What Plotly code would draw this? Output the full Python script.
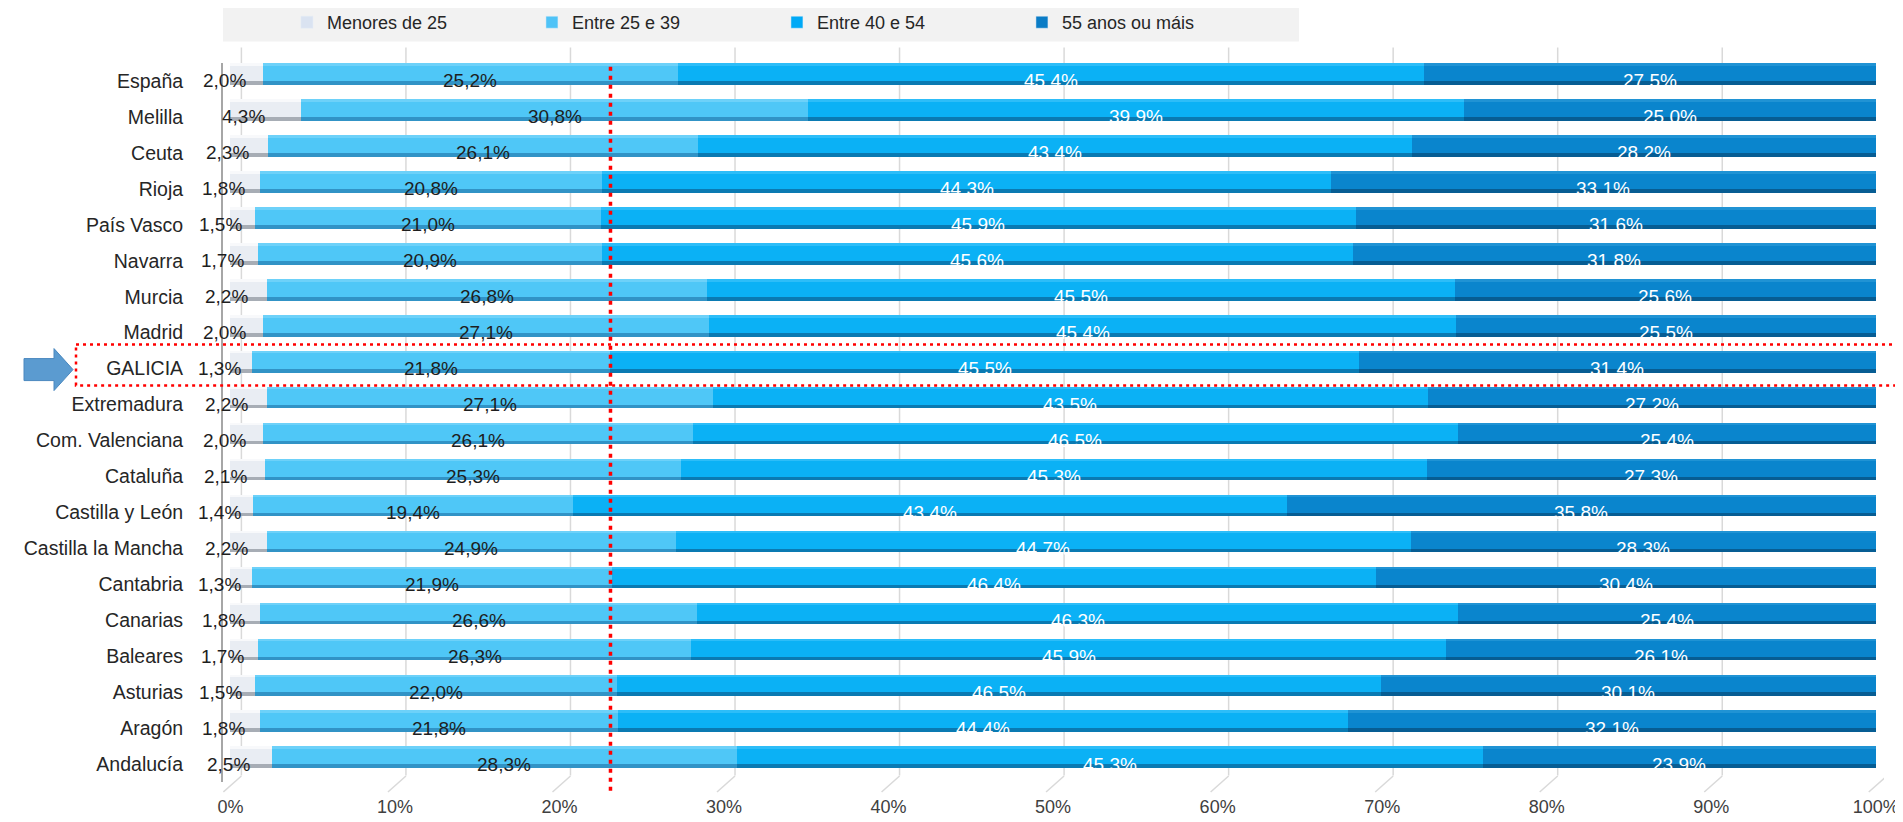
import plotly.graph_objects as go

# ---------------- data ----------------
REGIONS = ["España", "Melilla", "Ceuta", "Rioja", "País Vasco", "Navarra", "Murcia",
           "Madrid", "GALICIA", "Extremadura", "Com. Valenciana", "Cataluña",
           "Castilla y León", "Castilla la Mancha", "Cantabria", "Canarias",
           "Baleares", "Asturias", "Aragón", "Andalucía"]
SERIES = ["Menores de 25", "Entre 25 e 39", "Entre 40 e 54", "55 anos ou máis"]
MENORES_25 = [2.0, 4.3, 2.3, 1.8, 1.5, 1.7, 2.2, 2.0, 1.3, 2.2, 2.0, 2.1, 1.4, 2.2, 1.3, 1.8, 1.7, 1.5, 1.8, 2.5]
ENTRE_25_39 = [25.2, 30.8, 26.1, 20.8, 21.0, 20.9, 26.8, 27.1, 21.8, 27.1, 26.1, 25.3, 19.4, 24.9, 21.9, 26.6, 26.3, 22.0, 21.8, 28.3]
ENTRE_40_54 = [45.4, 39.9, 43.4, 44.3, 45.9, 45.6, 45.5, 45.4, 45.5, 43.5, 46.5, 45.3, 43.4, 44.7, 46.4, 46.3, 45.9, 46.5, 44.4, 45.3]
MAIS_55 = [27.5, 25.0, 28.2, 33.1, 31.6, 31.8, 25.6, 25.5, 31.4, 27.2, 25.4, 27.3, 35.8, 28.3, 30.4, 25.4, 26.1, 30.1, 32.1, 23.9]
X_TICKS = [0, 10, 20, 30, 40, 50, 60, 70, 80, 90, 100]
X_TICK_LABELS = ["0%", "10%", "20%", "30%", "40%", "50%", "60%", "70%", "80%", "90%", "100%"]
HIGHLIGHT = "GALICIA"

# ---------------- styles ----------------
FONT = "Liberation Sans, Arial, sans-serif"
FILL = ["#e9edf3", "#4fc7f7", "#0bb1f5", "#0a85cd"]
LEGEND_COL = ["#dae3f1", "#4fc3f7", "#00a9f6", "#0a7cc6"]
SHADE = ["#a7adb5", "#3193c6", "#0a7ab2", "#075d93"]
LIGHT = ["#ffffff", "#7ad6fa", "#3cc3fa", "#2a9ad8"]
LABEL_COL = ["#1e1e1e", "#1e1e1e", "#ffffff", "#ffffff"]
BAR_W = 0.6
BAR_OFF = -0.49

values = [MENORES_25, ENTRE_25_39, ENTRE_40_54, MAIS_55]
n = len(REGIONS)
totals = [sum(v[i] for v in values) for i in range(n)]
shares = [[v[i] / totals[i] * 100 for i in range(n)] for v in values]
bases = []
run = [0.0] * n
for s in shares:
    bases.append(run[:])
    run = [run[i] + s[i] for i in range(n)]

fig = go.Figure()
for k, name in enumerate(SERIES):
    fig.add_trace(go.Bar(
        y=REGIONS, x=shares[k], base=bases[k], orientation="h", name=name,
        width=BAR_W, offset=BAR_OFF, marker=dict(color=FILL[k], line=dict(width=0)),
        hoverinfo="skip", showlegend=False))
    # top highlight
    fig.add_trace(go.Bar(
        y=REGIONS, x=shares[k], base=bases[k], orientation="h",
        width=0.07, offset=BAR_OFF, marker=dict(color=LIGHT[k], line=dict(width=0)),
        opacity=0.7, hoverinfo="skip", showlegend=False))
    # bottom shadow
    fig.add_trace(go.Bar(
        y=REGIONS, x=shares[k], base=bases[k], orientation="h",
        width=0.1, offset=BAR_OFF + BAR_W - 0.1,
        marker=dict(color=SHADE[k], line=dict(width=0)),
        hoverinfo="skip", showlegend=False))

# legend entries
for k, name in enumerate(SERIES):
    fig.add_trace(go.Bar(y=[None], x=[None], orientation="h", name=name,
                         marker=dict(color=LEGEND_COL[k]), showlegend=True))

# data labels
annotations = []
for k in range(4):
    for i, reg in enumerate(REGIONS):
        mid = bases[k][i] + shares[k][i] / 2
        annotations.append(dict(
            x=mid, y=reg, xref="x", yref="y", showarrow=False,
            text=f"{values[k][i]:.1f}%".replace(".", ","),
            font=dict(family=FONT, size=19, color=LABEL_COL[k]),
            xshift=-22 if k == 0 else 0, xanchor="center", yanchor="middle"))

shapes = []
# legend background
shapes.append(dict(type="rect", xref="paper", yref="paper", x0=0, x1=0.6478,
                   y0=1.0299, y1=1.0828, fillcolor="#f2f2f2", line=dict(width=0),
                   layer="below"))
# back-wall gridlines and floor lines
for t in X_TICKS:
    shapes.append(dict(type="line", xref="x", yref="paper", xsizemode="pixel", xanchor=t,
                       x0=11, x1=11, y0=0.009, y1=1.0216,
                       line=dict(color="#d9d9d9", width=1.5), layer="below"))
    shapes.append(dict(type="line", xref="x", yref="paper", xsizemode="pixel", xanchor=t,
                       ysizemode="pixel", yanchor=0,
                       x0=11, x1=-7, y0=6, y1=-10,
                       line=dict(color="#d9d9d9", width=1.5), layer="below"))

# reference line at GALICIA's under-40 share
gi = REGIONS.index(HIGHLIGHT)
ref_x = bases[2][gi]
shapes.append(dict(type="line", xref="x", yref="paper", x0=ref_x, x1=ref_x,
                   y0=-0.012, y1=1.0, line=dict(color="#ff0000", width=3.5, dash="4px,5px")))
# highlight box
shapes.append(dict(type="rect", xref="paper", yref="y", x0=-0.0885, x1=1.035,
                   y0=gi - 0.667, y1=gi + 0.47,
                   line=dict(color="#ff0000", width=2.5, dash="3px,4px")))
# arrow
shapes.append(dict(type="path", xref="paper", yref="y", xsizemode="pixel", ysizemode="pixel",
                   xanchor=0, yanchor=gi,
                   path="M-199,10 L-169,10 L-169,20 L-150,-1 L-169,-22 L-169,-12 L-199,-12 Z",
                   fillcolor="#5b9bd0", line=dict(color="#4a88bf", width=1)))

# the page body adds an 8px margin, so the figure is 8px smaller on each axis
fig.update_layout(
    width=1895, height=814, autosize=False,
    margin=dict(l=215, r=19, t=55, b=40, autoexpand=False),
    barmode="overlay", bargap=0,
    plot_bgcolor="white", paper_bgcolor="white",
    font=dict(family=FONT, size=18, color="#262626"),
    showlegend=True,
    legend=dict(orientation="h", x=0.0385, xanchor="left", y=1.0563, yanchor="middle",
                bgcolor="rgba(0,0,0,0)", font=dict(family=FONT, size=18, color="#262626"),
                entrywidth=200, entrywidthmode="pixels", traceorder="normal"),
    xaxis=dict(range=[-0.45, 100.5], tickvals=X_TICKS, ticktext=X_TICK_LABELS,
               showgrid=False, zeroline=False, showline=False,
               ticks="outside", ticklen=8, tickcolor="rgba(0,0,0,0)",
               tickfont=dict(family=FONT, size=18, color="#404040"), fixedrange=True),
    yaxis=dict(categoryorder="array", categoryarray=REGIONS, range=[n - 0.5, -0.5],
               showgrid=False, zeroline=False, showline=True, linecolor="#a6a6a6", linewidth=2,
               ticks="outside", ticklen=34, tickcolor="rgba(0,0,0,0)",
               tickfont=dict(family=FONT, size=19.5, color="#262626"), fixedrange=True),
    annotations=annotations,
    shapes=shapes,
)

fig.write_html("out.html")
